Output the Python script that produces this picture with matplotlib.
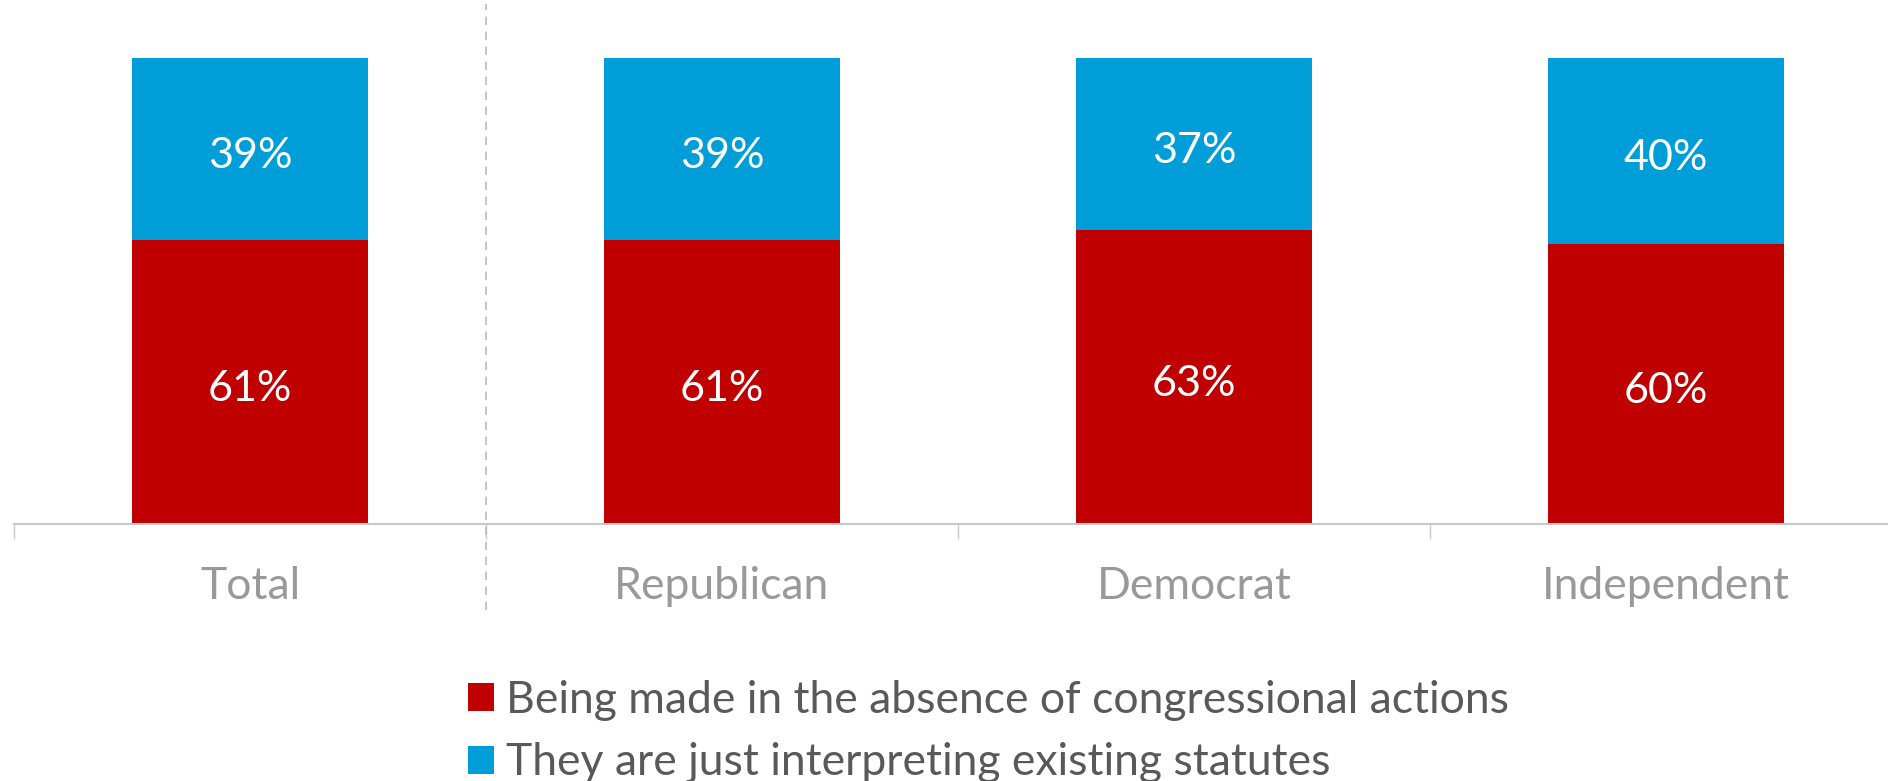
import matplotlib
matplotlib.use("Agg")
import matplotlib.pyplot as plt
import matplotlib.transforms as mtransforms
import numpy as np

categories = ["Total", "Republican", "Democrat", "Independent"]
absence_vals = [61, 61, 63, 60]
interpret_vals = [39, 39, 37, 40]
series_labels = ["Being made in the absence of congressional actions",
                 "They are just interpreting existing statutes"]

RED = "#C00000"
BLUE = "#009ED8"
GRID = "#C8C8C8"

plt.rcParams['font.family'] = ['Lato', 'DejaVu Sans']

W, H = 1888, 781
fig = plt.figure(figsize=(W / 100, H / 100), dpi=100)
base_px, top_px = 524, 58
ax = fig.add_axes([14 / W, (H - base_px) / H, 1.0, (base_px - top_px) / H])

x = np.arange(len(categories))
a = np.array(absence_vals) / 100
b = np.array(interpret_vals) / 100
bars1 = ax.bar(x, a, width=0.5, color=RED, label=series_labels[0])
bars2 = ax.bar(x, b, width=0.5, bottom=a, color=BLUE, label=series_labels[1])

shift = mtransforms.offset_copy(ax.transData, fig=fig, x=0, y=-5, units="points")
for xi, ai, bi, va_, vb_ in zip(x, a, b, absence_vals, interpret_vals):
    ax.text(xi, ai / 2, f"{va_}%", ha="center", va="center", color="white",
            fontsize=31, transform=shift)
    ax.text(xi, ai + bi / 2, f"{vb_}%", ha="center", va="center", color="white",
            fontsize=31, transform=shift)

ax.set_xlim(-0.5, 3.5)
ax.set_ylim(0, 1)
for s in ["left", "right", "top"]:
    ax.spines[s].set_visible(False)
ax.spines["bottom"].set_color(GRID)
ax.spines["bottom"].set_linewidth(1.5)
ax.set_yticks([])
ax.set_xticks(x)
ax.set_xticklabels(categories, fontsize=32, color="#999999")
ax.tick_params(axis="x", which="major", length=0, pad=30)
ax.set_xticks([-0.5, 0.5, 1.5, 2.5], minor=True)
ax.tick_params(axis="x", which="minor", length=11, width=1.0, color=GRID)

# dashed separator between Total and party groups
span = base_px - top_px
ax.axvline(0.5, ymin=(base_px - 610) / span, ymax=(base_px - 4) / span,
           color="#BBBBBB", lw=1.2, ls=(0, (5, 4)), clip_on=False)

leg = fig.legend(handles=[bars1, bars2], labels=series_labels,
                 loc="upper left", bbox_to_anchor=(468 / W, 1 - 680 / H),
                 frameon=False, fontsize=32, handlelength=0.58, handleheight=0.6,
                 handletextpad=0.28, labelspacing=0.48, borderpad=0, borderaxespad=0)
for t in leg.get_texts():
    t.set_color("#595959")

fig.savefig("out.png", dpi=100)
